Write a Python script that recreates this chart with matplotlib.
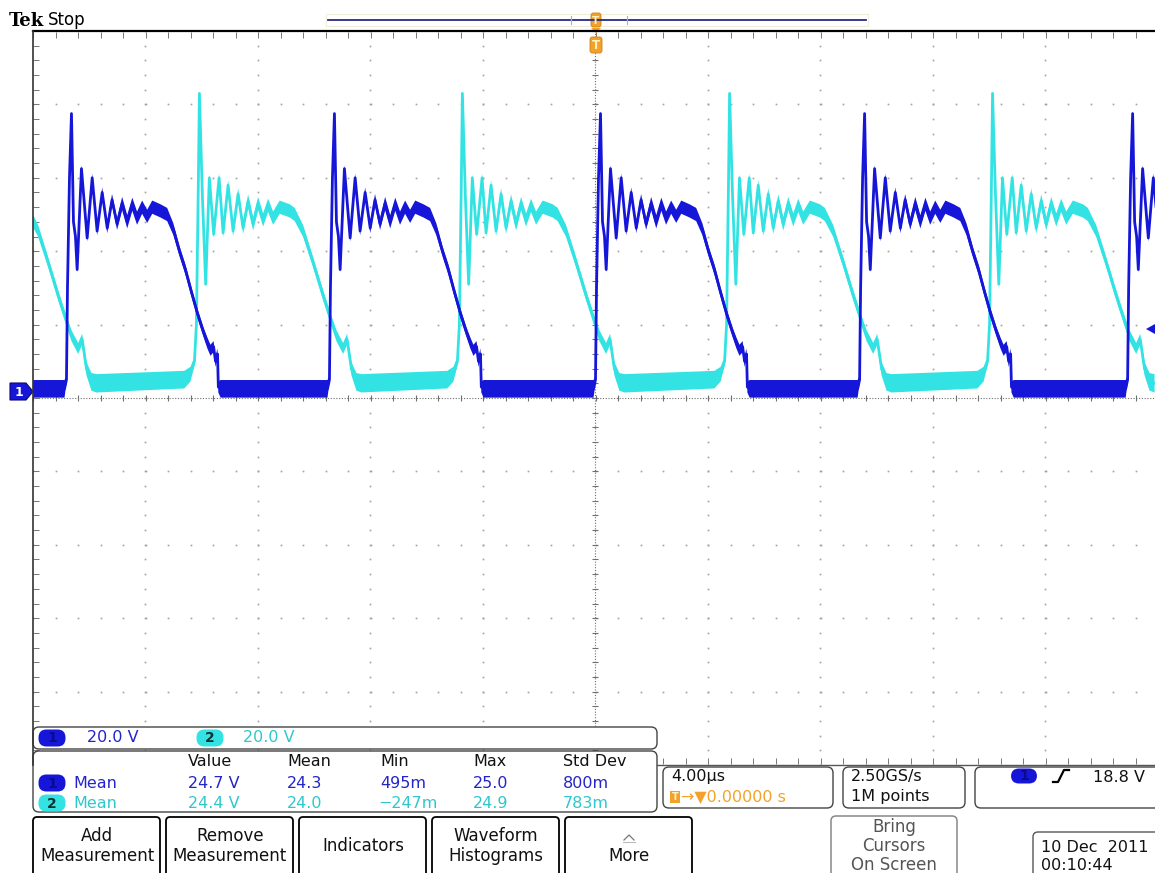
import numpy as np
import matplotlib
matplotlib.use("Agg")
import matplotlib.pyplot as plt
from matplotlib.patches import FancyBboxPatch, Polygon, Rectangle

# ---------------- data ----------------
time_per_div_us = 4.0
volts_per_div = 20.0
n_hdiv = 10
n_vdiv = 10

# rising-edge instants of each channel (µs, relative to trigger)
ch1_rise_edges_us = [-28.23, -18.81, -9.46, 0.0, 9.39, 18.92]
ch2_rise_edges_us = [-23.61, -14.19, -4.84, 4.66, 14.01]

# one switching period of CH1, relative to its rising edge: time (µs), volts, noise half-band (V)
ch1_shape_t = [-0.07, 0.0, 0.036, 0.107, 0.178, 0.249, 0.32, 0.38, 0.533, 0.736, 0.914,
               1.09, 1.27, 1.45, 1.62, 1.80, 1.98, 2.16, 2.34, 2.51, 2.69, 2.87, 3.05,
               3.34, 3.58, 3.80, 4.02, 4.23, 4.44, 4.66, 4.87, 5.01, 5.12, 5.23, 5.30,
               5.37, 5.40, 5.48]
ch1_shape_v = [2.5, 5.0, 30.0, 60.0, 77.5, 48.0, 44.0, 35.0, 62.5, 43.6, 60.0,
               45.5, 56.0, 46.3, 54.0, 47.4, 53.0, 48.0, 52.8, 49.0, 52.0, 49.5, 52.0,
               51.0, 50.0, 46.0, 40.0, 35.0, 29.0, 23.0, 18.0, 15.0, 13.0, 14.0, 10.0,
               12.0, 3.0, 2.5]
ch1_shape_noise = [2.4, 1.0, 0.6, 0.6, 0.6, 0.8, 0.8, 0.8, 1.0, 1.0, 1.2,
                   1.2, 1.4, 1.4, 1.6, 1.6, 1.8, 1.8, 1.8, 1.8, 1.8, 1.8, 1.8,
                   1.8, 1.8, 1.6, 1.4, 1.4, 1.3, 1.3, 1.3, 1.5, 1.5, 1.5, 1.5,
                   1.5, 1.5, 2.4]

# one switching period of CH2, relative to its rising edge
ch2_shape_t = [-0.43, -0.21, -0.07, 0.0, 0.071, 0.107, 0.213, 0.33, 0.46, 0.615, 0.807,
               0.949, 1.127, 1.305, 1.483, 1.66, 1.838, 2.016, 2.194, 2.372, 2.549, 2.727,
               2.962, 3.317, 3.495, 3.794, 4.149, 4.505, 4.80, 4.978, 5.216, 5.358, 5.511,
               5.689, 5.867]
ch2_shape_v = [5.0, 6.5, 10.0, 20.0, 60.0, 83.0, 55.0, 31.0, 60.0, 44.6, 60.0,
               45.0, 58.0, 45.5, 55.6, 46.3, 53.7, 47.4, 53.0, 48.5, 52.5, 49.0,
               52.0, 51.0, 50.0, 45.5, 37.0, 28.0, 21.0, 17.0, 13.5, 16.0, 8.0,
               4.4, 4.0]
ch2_shape_noise = [2.4, 2.0, 1.2, 0.6, 0.6, 0.6, 0.6, 0.8, 1.0, 1.0, 1.2,
                   1.2, 1.4, 1.4, 1.6, 1.6, 1.8, 1.8, 1.8, 1.8, 1.8, 1.8,
                   1.8, 1.8, 1.8, 1.6, 1.4, 1.4, 1.4, 1.5, 1.5, 1.5, 1.8,
                   2.4, 2.5]

ch1_scale_label = "20.0 V"
ch2_scale_label = "20.0 V"
meas_headers = ["Value", "Mean", "Min", "Max", "Std Dev"]
ch1_meas = ["24.7 V", "24.3", "495m", "25.0", "800m"]
ch2_meas = ["24.4 V", "24.0", "\u2212247m", "24.9", "783m"]
timebase_label = "4.00\u00b5s"
trigger_pos_label = "\u2192\u25bc0.00000 s"
sample_labels = ["2.50GS/s", "1M points"]
trigger_level_label = "18.8 V"
trigger_level_v = 18.8
button_labels = ["Add\nMeasurement", "Remove\nMeasurement", "Indicators",
                 "Waveform\nHistograms", "More"]
date_labels = ["10 Dec  2011", "00:10:44"]

# ---------------- styling ----------------
W, H = 1155, 873
BLUE = "#1616d8"
CYAN = "#33e3e3"
BLUE_TXT = "#2424c8"
CYAN_TXT = "#2ec8cc"
ORANGE = "#f2a22a"
GRID = "#a0a0a0"
FONT = "DejaVu Sans"

fig = plt.figure(figsize=(W / 100, H / 100), dpi=100)
fig.patch.set_facecolor("white")

# graticule in pixel terms: x 33..1158, y 31..765
gx0, gx1, gy0, gy1 = 33, 1158, 31, 765
ax = fig.add_axes([gx0 / W, (H - gy1) / H, (gx1 - gx0) / W, (gy1 - gy0) / H])
xh = time_per_div_us * n_hdiv / 2
yh = volts_per_div * n_vdiv / 2
ax.set_xlim(-xh, xh)
ax.set_ylim(-yh, yh)
ax.axis("off")

# dotted graticule
xs_minor = np.arange(-xh, xh + 1e-6, time_per_div_us / 5)
ys_minor = np.arange(-yh, yh + 1e-6, volts_per_div / 5)
for k in range(-n_hdiv // 2 + 1, n_hdiv // 2 + 1):
    if k == 0:
        continue
    ax.plot(np.full_like(ys_minor, k * time_per_div_us), ys_minor, ls="none",
            marker="s", ms=1.2, color=GRID, mec="none", zorder=1)
for k in range(-n_vdiv // 2 + 1, n_vdiv // 2):
    if k == 0:
        continue
    ax.plot(xs_minor, np.full_like(xs_minor, k * volts_per_div), ls="none",
            marker="s", ms=1.2, color=GRID, mec="none", zorder=1)
# center cross with ticks
ax.plot([0, 0], [-yh, yh], color="#707070", lw=0.8, ls=(0, (1, 1.5)), zorder=1)
ax.plot([-xh, xh], [0, 0], color="#707070", lw=0.8, ls=(0, (1, 1.5)), zorder=1)
ax.plot(np.zeros_like(ys_minor), ys_minor, ls="none", marker="_", ms=5, mew=0.8,
        color="#707070", zorder=1)
ax.plot(xs_minor, np.zeros_like(xs_minor), ls="none", marker="|", ms=5, mew=0.8,
        color="#707070", zorder=1)
# ticks on top, left and bottom borders
ax.plot(xs_minor, np.full_like(xs_minor, yh - 1.2), ls="none", marker="|", ms=4,
        mew=0.7, color="#777777", zorder=1)
ax.plot(xs_minor, np.full_like(xs_minor, -yh + 1.2), ls="none", marker="|", ms=4,
        mew=0.7, color="#777777", zorder=1)
ax.plot(np.full_like(ys_minor, -xh + 0.12), ys_minor, ls="none", marker="_", ms=4,
        mew=0.7, color="#777777", zorder=1)


def build_trace(edges, st, sv, sn):
    st = np.asarray(st)
    t = np.concatenate([e + st for e in edges])
    v = np.concatenate([np.asarray(sv, float) for _ in edges])
    n = np.concatenate([np.asarray(sn, float) for _ in edges])
    return t, v, n


t2, v2, n2 = build_trace(ch2_rise_edges_us, ch2_shape_t, ch2_shape_v, ch2_shape_noise)
t1, v1, n1 = build_trace(ch1_rise_edges_us, ch1_shape_t, ch1_shape_v, ch1_shape_noise)

ax.fill_between(t2, v2 - n2, v2 + n2, color=CYAN, lw=0, zorder=3)
ax.plot(t2, v2, color=CYAN, lw=2.0, zorder=3, solid_joinstyle="round")
ax.fill_between(t1, v1 - n1, v1 + n1, color=BLUE, lw=0, zorder=4)
ax.plot(t1, v1, color=BLUE, lw=2.0, zorder=4, solid_joinstyle="round")

# ---------------- overlay (screen furniture) ----------------
ov = fig.add_axes([0, 0, 1, 1], zorder=5)
ov.set_xlim(0, W)
ov.set_ylim(H, 0)
ov.axis("off")
ov.patch.set_alpha(0)

# graticule frame
ov.plot([33, W], [31, 31], color="black", lw=1.6)
ov.plot([33, 33], [31, 765], color="#333333", lw=1.2)
ov.plot([657, W], [765, 765], color="#555555", lw=1.0)

# header
ov.text(9, 21, "Tek", fontsize=13, fontweight="bold", family="DejaVu Serif",
        va="center", ha="left", color="black")
ov.text(48, 20, "Stop", fontsize=12, family=FONT, va="center", ha="left", color="black")

# record-length bar
ov.add_patch(Rectangle((326, 14), 542, 12, fc="none", ec="#eeeedd", lw=0.8))
ov.plot([328, 570], [20, 20], color="#2a2a80", lw=1.3)
ov.plot([572, 626], [20, 20], color="#2a2a80", lw=1.3)
ov.plot([628, 866], [20, 20], color="#2a2a80", lw=1.3)
for xx in (571, 627):
    ov.plot([xx, xx], [16, 24], color="#aaaacc", lw=0.8)


def tmarker(x, y, w=11, h=14, fs=8):
    ov.add_patch(FancyBboxPatch((x - w / 2, y - h / 2), w, h,
                                boxstyle="round,pad=0,rounding_size=2.5",
                                fc=ORANGE, ec="#d08010", lw=0.6))
    ov.text(x, y + 0.5, "T", fontsize=fs, fontweight="bold", color="#fff2c0",
            ha="center", va="center", family=FONT)


tmarker(596, 20, 10, 14, 7.5)
ov.add_patch(Polygon([[591, 28], [601, 28], [596, 33]], closed=True, fc=ORANGE, ec="none"))
tmarker(596, 45, 12, 16, 8.5)

# channel 1 ground marker
ov.add_patch(Polygon([[10, 383], [26, 383], [33, 391.5], [26, 400], [10, 400]],
                     closed=True, fc=BLUE, ec="#0a0a70", lw=0.8))
ov.text(19, 392, "1", fontsize=9, fontweight="bold", color="white", ha="center",
        va="center", family=FONT)

# trigger level arrow on right edge
ly = 398 - trigger_level_v * (734 / 200)
ov.add_patch(Polygon([[1146, ly], [1155, ly - 5], [1155, ly + 5]], closed=True,
                     fc=BLUE, ec="none"))


def pill(x, y, label, fc, tc, w=27, h=17):
    ov.add_patch(FancyBboxPatch((x - w / 2, y - h / 2), w, h,
                                boxstyle="round,pad=0,rounding_size=8",
                                fc=fc, ec="none"))
    ov.text(x, y + 0.5, label, fontsize=10, fontweight="bold", color=tc,
            ha="center", va="center", family=FONT)


def rbox(x, y, w, h, ec="#444444", r=6, lw=1.0):
    ov.add_patch(FancyBboxPatch((x, y), w, h, boxstyle=f"round,pad=0,rounding_size={r}",
                                fc="white", ec=ec, lw=lw))


# channel scale box
rbox(33, 727, 624, 22)
pill(52, 738, "1", BLUE, "#0a0a90")
ov.text(87, 738, ch1_scale_label, fontsize=11.5, color=BLUE_TXT, va="center",
        ha="left", family=FONT)
pill(210, 738, "2", CYAN, "#0a3030")
ov.text(243, 738, ch2_scale_label, fontsize=11.5, color=CYAN_TXT, va="center",
        ha="left", family=FONT)

# measurement box
rbox(33, 751, 624, 61)
col_x = [188, 287, 380, 473, 563]
for cx, hd in zip(col_x, meas_headers):
    ov.text(cx, 762, hd, fontsize=11.5, color="#111111", va="center", ha="left",
            family=FONT)
pill(52, 783, "1", BLUE, "#0a0a90")
ov.text(73, 783, "Mean", fontsize=11.5, color=BLUE_TXT, va="center", ha="left",
        family=FONT)
pill(52, 803, "2", CYAN, "#0a3030")
ov.text(73, 803, "Mean", fontsize=11.5, color=CYAN_TXT, va="center", ha="left",
        family=FONT)
for i, cx in enumerate(col_x):
    ov.text(cx, 783, ch1_meas[i], fontsize=11.5, color=BLUE_TXT, va="center",
            ha="left", family=FONT)
    ov.text(cx - (2 if ch2_meas[i].startswith("\u2212") else 0), 803, ch2_meas[i],
            fontsize=11.5, color=CYAN_TXT, va="center", ha="left", family=FONT)

# timebase box
rbox(663, 767, 170, 41)
ov.text(671, 777, timebase_label, fontsize=11.5, color="#111111", va="center",
        ha="left", family=FONT)
ov.add_patch(Rectangle((670, 791), 10, 12, fc=ORANGE, ec="none"))
ov.text(675, 797.5, "T", fontsize=7, fontweight="bold", color="#fff2c0", ha="center",
        va="center", family=FONT)
ov.text(681, 797, trigger_pos_label, fontsize=11.5, color=ORANGE, va="center",
        ha="left", family=FONT)

# acquisition box
rbox(843, 767, 122, 41)
ov.text(851, 777, sample_labels[0], fontsize=11.5, color="#111111", va="center",
        ha="left", family=FONT)
ov.text(851, 797, sample_labels[1], fontsize=11.5, color="#111111", va="center",
        ha="left", family=FONT)

# trigger box
rbox(975, 767, 200, 41)
pill(1024, 776, "1", BLUE, "#0a0a90", w=26, h=15)
ov.plot([1053, 1058, 1064, 1069], [782, 782, 770, 770], color="black", lw=1.6)
ov.text(1093, 777, trigger_level_label, fontsize=11.5, color="#111111", va="center",
        ha="left", family=FONT)

# soft buttons
btn_x = [33, 166, 299, 432, 565]
for bx, lab in zip(btn_x, button_labels):
    ov.add_patch(FancyBboxPatch((bx, 817), 127, 70, boxstyle="round,pad=0,rounding_size=4",
                                fc="white", ec="black", lw=1.3))
    cx = bx + 64
    if lab == "More":
        ov.plot([cx - 5, cx, cx + 5], [840, 835, 840], color="#777777", lw=0.9)
        ov.plot([cx - 6, cx + 6], [842, 842], color="#bbbbbb", lw=0.8)
        ov.text(cx, 856, lab, fontsize=12, color="#111111", ha="center", va="center",
                family=FONT)
    elif "\n" in lab:
        a, b = lab.split("\n")
        ov.text(cx, 836, a, fontsize=12, color="#111111", ha="center", va="center",
                family=FONT)
        ov.text(cx, 856, b, fontsize=12, color="#111111", ha="center", va="center",
                family=FONT)
    else:
        ov.text(cx, 846, lab, fontsize=12, color="#111111", ha="center", va="center",
                family=FONT)

# Bring cursors button (greyed)
ov.add_patch(FancyBboxPatch((831, 816), 126, 70, boxstyle="round,pad=0,rounding_size=5",
                            fc="white", ec="#888888", lw=1.1))
for yy, s in zip((827, 846, 865), ("Bring", "Cursors", "On Screen")):
    ov.text(894, yy, s, fontsize=12, color="#555555", ha="center", va="center",
            family=FONT)

# date box
ov.add_patch(FancyBboxPatch((1033, 832), 140, 60, boxstyle="round,pad=0,rounding_size=5",
                            fc="white", ec="#555555", lw=1.0))
ov.text(1041, 847, date_labels[0], fontsize=11.5, color="#111111", ha="left",
        va="center", family=FONT)
ov.text(1041, 865, date_labels[1], fontsize=11.5, color="#111111", ha="left",
        va="center", family=FONT)

fig.savefig("out.png", dpi=100, facecolor="white")
